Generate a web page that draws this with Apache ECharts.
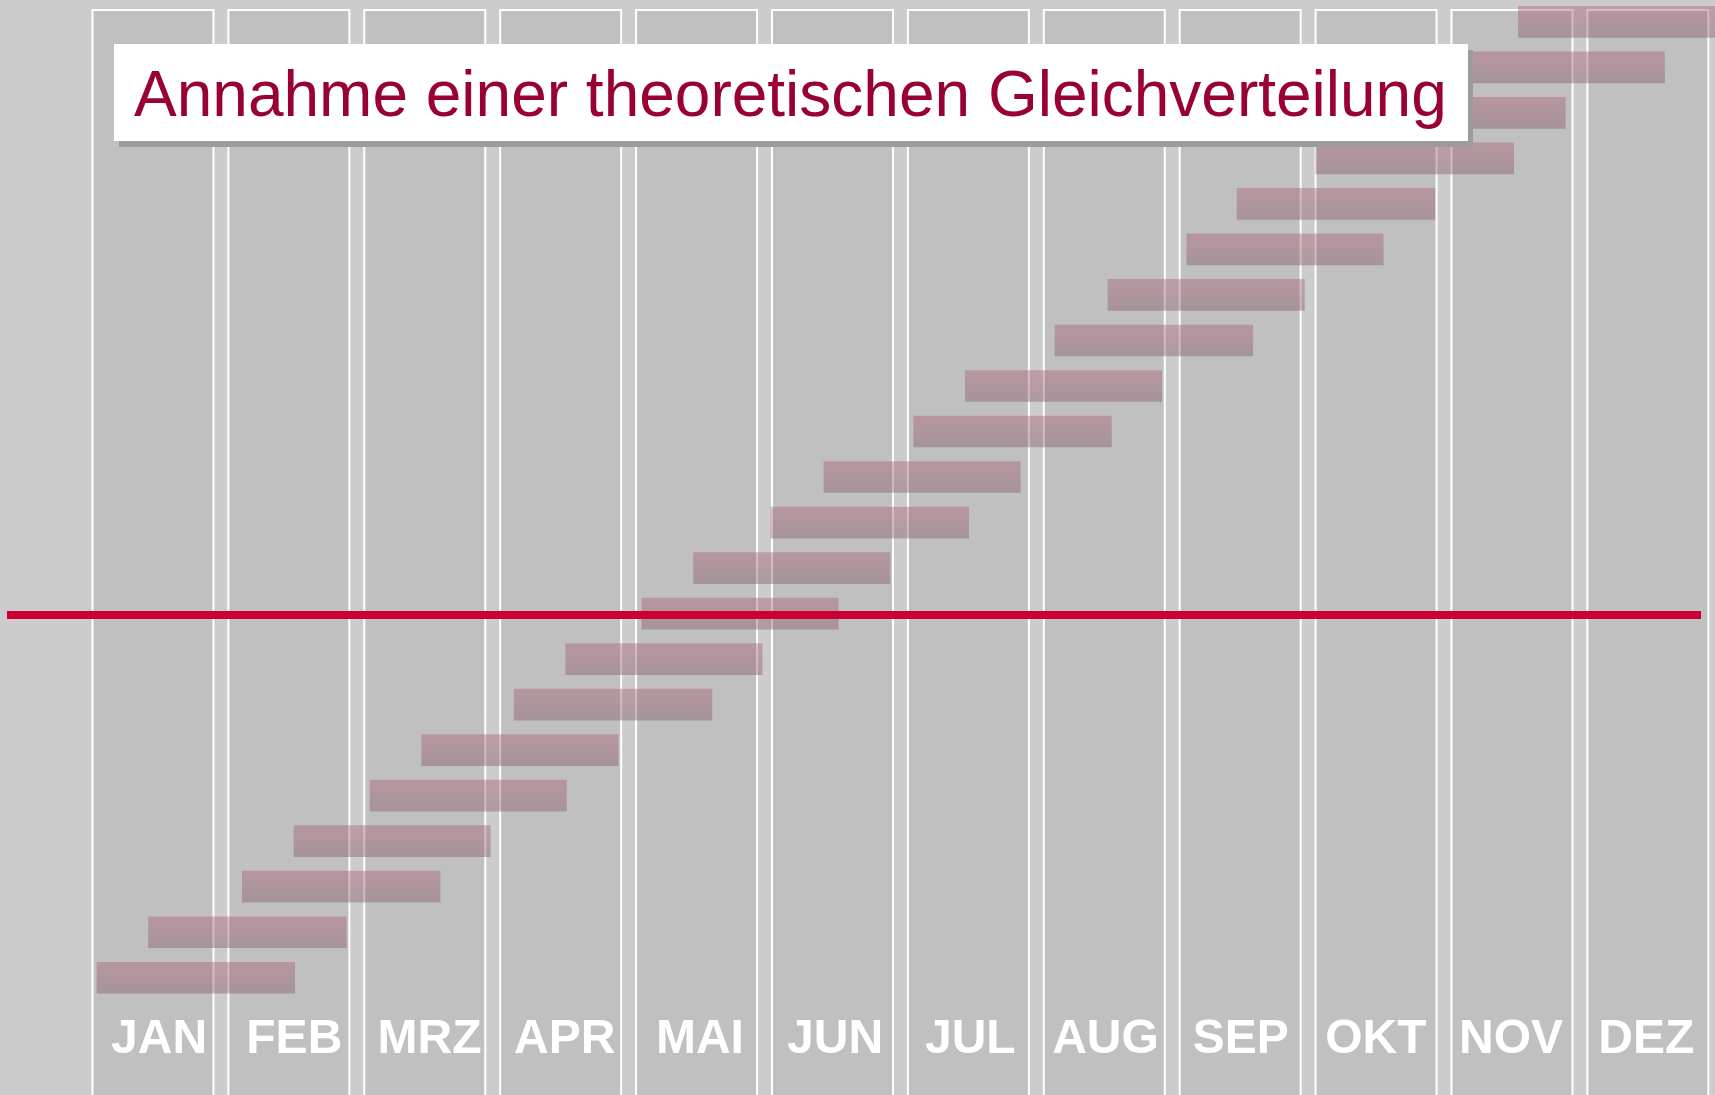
<!DOCTYPE html>
<html>
<head>
<meta charset="utf-8">
<title>Gleichverteilung</title>
<script src="https://cdn.jsdelivr.net/npm/echarts@6/dist/echarts.min.js"></script>
<style>
    html, body { margin: 0; padding: 0; background: #cccccc; }
    #chart { width: 1715px; height: 1095px; }
</style>
</head>
<body>
<div id="chart"></div>
<script>
    // Monate (Spalten)
    var months = ['JAN', 'FEB', 'MRZ', 'APR', 'MAI', 'JUN', 'JUL', 'AUG', 'SEP', 'OKT', 'NOV', 'DEZ'];
    // Zeilen von unten nach oben
    var rows = [1, 2, 3, 4, 5, 6, 7, 8, 9, 10, 11, 12, 13, 14, 15, 16, 17, 18, 19, 20, 21, 22];
    // Beginn / Ende der Balken in Monaten
    var barStart = [0.03, 0.41, 1.10, 1.48, 2.04, 2.42, 3.10, 3.48, 4.04, 4.42, 4.99, 5.38,
                    6.04, 6.42, 7.08, 7.47, 8.05, 8.42, 9.00, 9.38, 10.11, 10.49];
    var barEnd = [1.49, 1.87, 2.56, 2.93, 3.49, 3.87, 4.56, 4.93, 5.49, 5.87, 6.45, 6.83,
                  7.50, 7.87, 8.54, 8.92, 9.50, 9.88, 10.46, 10.84, 11.57, 11.95];
    // rote Linie (Zeile)
    var refLine = 8.98;
    var titleText = 'Annahme einer theoretischen Gleichverteilung';

    var fontFam = '"Liberation Sans", Arial, sans-serif';

    var barData = rows.map(function (r, i) {
        return [r, barStart[i], barEnd[i]];
    });

    // Monatsspalten als markArea
    var colAreas = months.map(function (m, i) {
        return [{ xAxis: i }, { xAxis: i + 0.89 }];
    });

    var barFill = new echarts.graphic.LinearGradient(0, 0, 0, 1, [
        { offset: 0, color: 'rgba(172,92,112,0.42)' },
        { offset: 1, color: 'rgba(127,87,100,0.42)' }
    ]);

    function renderBar(params, api) {
        var row = api.value(0);
        var p0 = api.coord([api.value(1), row]);
        var p1 = api.coord([api.value(2), row]);
        var h = api.size([0, 1])[1] * 0.696;
        return {
            type: 'rect',
            shape: { x: p0[0], y: p0[1] - h / 2, width: p1[0] - p0[0], height: h },
            style: { fill: barFill }
        };
    }

    var myChart = echarts.init(document.getElementById('chart'));
    var _option = {
        backgroundColor: '#cccccc',
        animation: false,
        textStyle: { fontFamily: fontFam },
        grid: [
            { left: 92.5, top: 10, width: 1630.8, height: 1104.3, containLabel: false, outerBoundsMode: 'none' },
            // Achse nur fuer die Monatsbeschriftung
            { left: 91.5, top: 1002, width: 1622.4, height: 6, containLabel: false, outerBoundsMode: 'none' }
        ],
        xAxis: [
            {
                type: 'value', gridIndex: 0, min: 0, max: 12,
                axisLine: { show: false }, axisTick: { show: false },
                axisLabel: { show: false }, splitLine: { show: false }
            },
            {
                type: 'category', gridIndex: 1, data: months, boundaryGap: true, z: 20,
                axisLine: { show: false }, axisTick: { show: false }, splitLine: { show: false },
                axisLabel: {
                    margin: 8,
                    interval: 0,
                    color: '#ffffff',
                    fontSize: 48,
                    fontWeight: 'bold',
                    fontFamily: fontFam
                }
            }
        ],
        yAxis: [
            {
                type: 'value', gridIndex: 0, min: -2, max: 22.26,
                axisLine: { show: false }, axisTick: { show: false },
                axisLabel: { show: false }, splitLine: { show: false }
            },
            {
                type: 'value', gridIndex: 1, show: false
            }
        ],
        series: [
            {
                type: 'custom',
                xAxisIndex: 0,
                yAxisIndex: 0,
                clip: false,
                silent: true,
                renderItem: renderBar,
                encode: { x: [1, 2], y: 0 },
                data: barData,
                markArea: {
                    silent: true,
                    itemStyle: {
                        color: '#c0c0c0',
                        borderColor: '#ffffff',
                        borderWidth: 2
                    },
                    label: { show: false },
                    data: colAreas
                },
                markLine: {
                    silent: true,
                    symbol: ['none', 'none'],
                    label: { show: false },
                    lineStyle: { color: '#cc0033', width: 8, type: 'solid', opacity: 1 },
                    data: [[{ x: 7, yAxis: refLine }, { x: 1701, yAxis: refLine }]]
                }
            }
        ],
        graphic: [
            {
                type: 'rect', z: 10, silent: true,
                shape: { x: 119, y: 50, width: 1354, height: 97 },
                style: { fill: '#9c9c9c' }
            },
            {
                type: 'rect', z: 11, silent: true,
                shape: { x: 114, y: 44, width: 1354, height: 97 },
                style: { fill: '#ffffff' }
            },
            {
                type: 'text', z: 12, silent: true,
                x: 134, y: 98,
                style: {
                    text: titleText,
                    fill: '#990033',
                    font: '64px ' + fontFam,
                    align: 'left',
                    verticalAlign: 'middle'
                }
            }
        ]
    };
    myChart.setOption(_option);
</script>
</body>
</html>
